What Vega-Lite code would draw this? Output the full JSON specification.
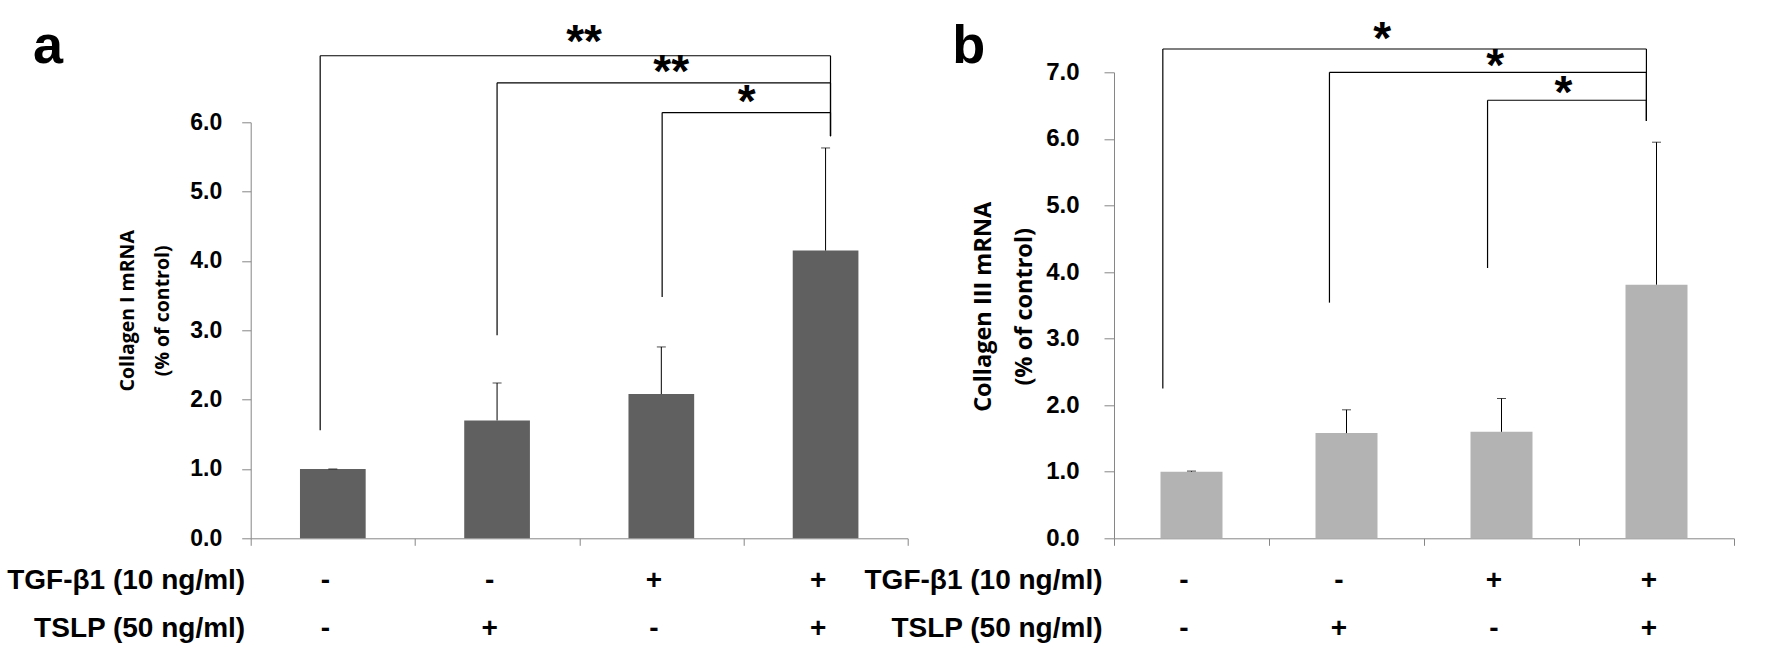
{
  "$schema": "https://vega.github.io/schema/vega-lite/v6.json",
  "autosize": "none",
  "padding": {"left": 250.7, "top": 72.3, "right": 1534.3, "bottom": 599.7},
  "bounds": "flush",
  "spacing": 206.3,
  "config": {"view": {"stroke": null}, "font": "Liberation Sans"},
  "datasets": {
    "barsA": [
      {"cond": "-|-", "mean": 1.00, "upper": 1.00},
      {"cond": "-|+", "mean": 1.70, "upper": 2.24},
      {"cond": "+|-", "mean": 2.08, "upper": 2.76},
      {"cond": "+|+", "mean": 4.15, "upper": 5.63}
    ],
    "barsB": [
      {"cond": "-|-", "mean": 1.00, "upper": 1.01},
      {"cond": "-|+", "mean": 1.58, "upper": 1.93},
      {"cond": "+|-", "mean": 1.60, "upper": 2.10},
      {"cond": "+|+", "mean": 3.81, "upper": 5.95}
    ],
    "brA": [
      {"x1": 0.423, "x2": 3.53, "y": 6.96, "yl": 1.56, "yr": 5.80, "xm": 2.03, "ys": 7.22, "label": "**"},
      {"x1": 1.5, "x2": 3.53, "y": 6.57, "yl": 2.93, "yr": 5.80, "xm": 2.56, "ys": 6.78, "label": "**"},
      {"x1": 2.505, "x2": 3.53, "y": 6.14, "yl": 3.48, "yr": 5.80, "xm": 3.02, "ys": 6.35, "label": "*"}
    ],
    "brB": [
      {"x1": 0.315, "x2": 3.435, "y": 7.35, "yl": 2.25, "yr": 6.27, "xm": 1.73, "ys": 7.56, "label": "*"},
      {"x1": 1.39, "x2": 3.435, "y": 7.0, "yl": 3.54, "yr": 6.27, "xm": 2.46, "ys": 7.15, "label": "*"},
      {"x1": 2.41, "x2": 3.435, "y": 6.58, "yl": 4.06, "yr": 6.27, "xm": 2.90, "ys": 6.75, "label": "*"}
    ],
    "letA": [{"lx": -1.234, "ly": 6.855, "t": "a"}],
    "letB": [{"lx": -0.937, "ly": 7.14, "t": "b"}]
  },
  "hconcat": [
    {
      "width": 657,
      "height": 466,
      "layer": [
        {
          "data": {"name": "barsA"},
          "layer": [
            {
              "mark": {"type": "bar", "color": "#606060", "width": {"band": 0.4}},
              "encoding": {
                "x": {
                  "field": "cond", "type": "nominal", "sort": null,
                  "scale": {"paddingInner": 0, "paddingOuter": 0},
                  "axis": {
                    "title": ["TGF-β1 (10 ng/ml)", "TSLP (50 ng/ml)"],
                    "titleFont": "Liberation Sans",
                    "titleFontSize": 28, "titleFontWeight": "bold", "titleColor": "black",
                    "titleAlign": "right", "titleBaseline": "alphabetic",
                    "titleX": -6, "titleY": 50, "titleLineHeight": 48,
                    "labelExpr": "datum.value ? split(datum.value, '|') : ''",
                    "labelFont": "Liberation Sans",
                    "labelFontSize": 28, "labelFontWeight": "bold", "labelColor": "black",
                    "labelAngle": 0, "labelBaseline": "alphabetic", "labelLineHeight": 48,
                    "labelPadding": 43, "labelOffset": -8,
                    "tickBand": "extent", "tickSize": 7, "tickColor": "#868686",
                    "domainColor": "#868686", "grid": false
                  }
                },
                "y": {
                  "field": "mean", "type": "quantitative",
                  "scale": {"domain": [0, 6], "range": [466, 50], "nice": false},
                  "axis": {
                    "values": [0, 1, 2, 3, 4, 5, 6], "format": ".1f",
                    "title": ["Collagen I mRNA", "(% of control)"],
                    "titleFont": "Open Sans", "titleFontSize": 19.5, "titleFontWeight": "bold",
                    "titleColor": "black", "titleLineHeight": 35, "titleBaseline": "middle",
                    "titleAngle": -90, "titleX": -123, "titleY": 238,
                    "labelFontSize": 23, "labelFontWeight": "bold", "labelColor": "black",
                    "labelPadding": 20, "tickSize": 9, "tickColor": "#868686",
                    "domainColor": "#868686", "grid": false
                  }
                }
              }
            },
            {
              "mark": {"type": "rule", "color": "black", "strokeWidth": 1},
              "encoding": {
                "x": {"field": "cond", "type": "nominal", "sort": null},
                "y": {"field": "mean", "type": "quantitative", "scale": {"domain": [0, 6], "range": [466, 50], "nice": false}},
                "y2": {"field": "upper"}
              }
            },
            {
              "mark": {"type": "tick", "color": "black", "thickness": 1, "size": 9, "orient": "horizontal"},
              "encoding": {
                "x": {"field": "cond", "type": "nominal", "sort": null},
                "y": {"field": "upper", "type": "quantitative", "scale": {"domain": [0, 6], "range": [466, 50], "nice": false}}
              }
            }
          ]
        },
        {
          "layer": [
            {
              "data": {"name": "brA"},
              "mark": {"type": "rule", "color": "black", "strokeWidth": 1.2},
              "encoding": {
                "x": {"field": "x1", "type": "quantitative", "scale": {"domain": [0, 4], "nice": false, "zero": false}, "axis": null},
                "x2": {"field": "x2"},
                "y": {"field": "y", "type": "quantitative", "scale": {"domain": [0, 6], "range": [466, 50], "nice": false}}
              }
            },
            {
              "data": {"name": "brA"},
              "mark": {"type": "rule", "color": "black", "strokeWidth": 1.2},
              "encoding": {
                "x": {"field": "x1", "type": "quantitative", "scale": {"domain": [0, 4], "nice": false, "zero": false}, "axis": null},
                "y": {"field": "yl", "type": "quantitative", "scale": {"domain": [0, 6], "range": [466, 50], "nice": false}},
                "y2": {"field": "y"}
              }
            },
            {
              "data": {"name": "brA"},
              "mark": {"type": "rule", "color": "black", "strokeWidth": 1.2},
              "encoding": {
                "x": {"field": "x2", "type": "quantitative", "scale": {"domain": [0, 4], "nice": false, "zero": false}, "axis": null},
                "y": {"field": "yr", "type": "quantitative", "scale": {"domain": [0, 6], "range": [466, 50], "nice": false}},
                "y2": {"field": "y"}
              }
            },
            {
              "data": {"name": "brA"},
              "mark": {"type": "text", "font": "Liberation Sans", "fontSize": 46, "fontWeight": "bold", "color": "black", "align": "center", "baseline": "middle", "dy": 5},
              "encoding": {
                "x": {"field": "xm", "type": "quantitative", "scale": {"domain": [0, 4], "nice": false, "zero": false}, "axis": null},
                "y": {"field": "ys", "type": "quantitative", "scale": {"domain": [0, 6], "range": [466, 50], "nice": false}},
                "text": {"field": "label"}
              }
            },
            {
              "data": {"name": "letA"},
              "mark": {"type": "text", "font": "Liberation Sans", "fontSize": 54, "fontWeight": "bold", "color": "black", "align": "center", "baseline": "alphabetic"},
              "encoding": {
                "x": {"field": "lx", "type": "quantitative", "scale": {"domain": [0, 4], "nice": false, "zero": false}, "axis": null},
                "y": {"field": "ly", "type": "quantitative", "scale": {"domain": [0, 6], "range": [466, 50], "nice": false}},
                "text": {"field": "t"}
              }
            }
          ]
        }
      ],
      "resolve": {"scale": {"x": "independent"}, "axis": {"x": "independent"}}
    },
    {
      "width": 620,
      "height": 466,
      "layer": [
        {
          "data": {"name": "barsB"},
          "layer": [
            {
              "mark": {"type": "bar", "color": "#b3b3b3", "width": {"band": 0.4}},
              "encoding": {
                "x": {
                  "field": "cond", "type": "nominal", "sort": null,
                  "scale": {"paddingInner": 0, "paddingOuter": 0},
                  "axis": {
                    "title": ["TGF-β1 (10 ng/ml)", "TSLP (50 ng/ml)"],
                    "titleFont": "Liberation Sans",
                    "titleFontSize": 28, "titleFontWeight": "bold", "titleColor": "black",
                    "titleAlign": "right", "titleBaseline": "alphabetic",
                    "titleX": -12, "titleY": 50, "titleLineHeight": 48,
                    "labelExpr": "datum.value ? split(datum.value, '|') : ''",
                    "labelFont": "Liberation Sans",
                    "labelFontSize": 28, "labelFontWeight": "bold", "labelColor": "black",
                    "labelAngle": 0, "labelBaseline": "alphabetic", "labelLineHeight": 48,
                    "labelPadding": 43, "labelOffset": -8,
                    "tickBand": "extent", "tickSize": 7, "tickColor": "#868686",
                    "domainColor": "#868686", "grid": false
                  }
                },
                "y": {
                  "field": "mean", "type": "quantitative",
                  "scale": {"domain": [0, 7], "range": [466, 0], "nice": false},
                  "axis": {
                    "values": [0, 1, 2, 3, 4, 5, 6, 7], "format": ".1f",
                    "title": ["Collagen III mRNA", "(% of control)"],
                    "titleFont": "Open Sans", "titleFontSize": 23.5, "titleFontWeight": "bold",
                    "titleColor": "black", "titleLineHeight": 41, "titleBaseline": "middle",
                    "titleAngle": -90, "titleX": -131, "titleY": 234,
                    "labelFontSize": 24, "labelFontWeight": "bold", "labelColor": "black",
                    "labelPadding": 25, "tickSize": 10, "tickColor": "#868686",
                    "domainColor": "#868686", "grid": false
                  }
                }
              }
            },
            {
              "mark": {"type": "rule", "color": "black", "strokeWidth": 1},
              "encoding": {
                "x": {"field": "cond", "type": "nominal", "sort": null},
                "y": {"field": "mean", "type": "quantitative", "scale": {"domain": [0, 7], "range": [466, 0], "nice": false}},
                "y2": {"field": "upper"}
              }
            },
            {
              "mark": {"type": "tick", "color": "black", "thickness": 1, "size": 9, "orient": "horizontal"},
              "encoding": {
                "x": {"field": "cond", "type": "nominal", "sort": null},
                "y": {"field": "upper", "type": "quantitative", "scale": {"domain": [0, 7], "range": [466, 0], "nice": false}}
              }
            }
          ]
        },
        {
          "layer": [
            {
              "data": {"name": "brB"},
              "mark": {"type": "rule", "color": "black", "strokeWidth": 1.2},
              "encoding": {
                "x": {"field": "x1", "type": "quantitative", "scale": {"domain": [0, 4], "nice": false, "zero": false}, "axis": null},
                "x2": {"field": "x2"},
                "y": {"field": "y", "type": "quantitative", "scale": {"domain": [0, 7], "range": [466, 0], "nice": false}}
              }
            },
            {
              "data": {"name": "brB"},
              "mark": {"type": "rule", "color": "black", "strokeWidth": 1.2},
              "encoding": {
                "x": {"field": "x1", "type": "quantitative", "scale": {"domain": [0, 4], "nice": false, "zero": false}, "axis": null},
                "y": {"field": "yl", "type": "quantitative", "scale": {"domain": [0, 7], "range": [466, 0], "nice": false}},
                "y2": {"field": "y"}
              }
            },
            {
              "data": {"name": "brB"},
              "mark": {"type": "rule", "color": "black", "strokeWidth": 1.2},
              "encoding": {
                "x": {"field": "x2", "type": "quantitative", "scale": {"domain": [0, 4], "nice": false, "zero": false}, "axis": null},
                "y": {"field": "yr", "type": "quantitative", "scale": {"domain": [0, 7], "range": [466, 0], "nice": false}},
                "y2": {"field": "y"}
              }
            },
            {
              "data": {"name": "brB"},
              "mark": {"type": "text", "font": "Liberation Sans", "fontSize": 46, "fontWeight": "bold", "color": "black", "align": "center", "baseline": "middle", "dy": 5},
              "encoding": {
                "x": {"field": "xm", "type": "quantitative", "scale": {"domain": [0, 4], "nice": false, "zero": false}, "axis": null},
                "y": {"field": "ys", "type": "quantitative", "scale": {"domain": [0, 7], "range": [466, 0], "nice": false}},
                "text": {"field": "label"}
              }
            },
            {
              "data": {"name": "letB"},
              "mark": {"type": "text", "font": "Liberation Sans", "fontSize": 54, "fontWeight": "bold", "color": "black", "align": "center", "baseline": "alphabetic"},
              "encoding": {
                "x": {"field": "lx", "type": "quantitative", "scale": {"domain": [0, 4], "nice": false, "zero": false}, "axis": null},
                "y": {"field": "ly", "type": "quantitative", "scale": {"domain": [0, 7], "range": [466, 0], "nice": false}},
                "text": {"field": "t"}
              }
            }
          ]
        }
      ],
      "resolve": {"scale": {"x": "independent"}, "axis": {"x": "independent"}}
    }
  ]
}
